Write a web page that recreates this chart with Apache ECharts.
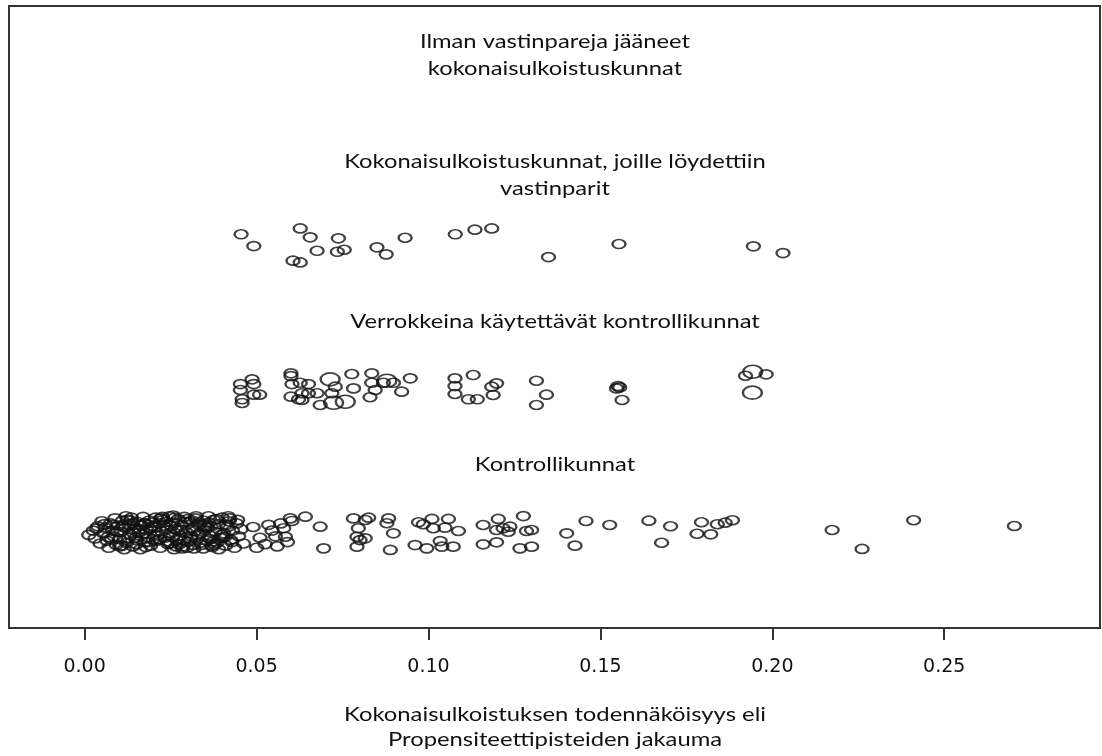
<!DOCTYPE html>
<html>
<head>
<meta charset="utf-8">
<script src="https://cdn.jsdelivr.net/npm/echarts@6/dist/echarts.min.js"></script>
<style>
  html, body { margin: 0; padding: 0; background: #fff; }
  #chart { width: 1102px; height: 756px; }
</style>
</head>
<body>
<div id="chart"></div>
<script>
// Group captions, top to bottom (level 4 .. level 1)
const groupLabels = [
  'Ilman vastinpareja jääneet\nkokonaisulkoistuskunnat',
  'Kokonaisulkoistuskunnat, joille löydettiin\nvastinparit',
  'Verrokkeina käytettävät kontrollikunnat',
  'Kontrollikunnat'
];
const xTickValues = [0, 0.05, 0.10, 0.15, 0.20, 0.25];
const xAxisTitle = 'Kokonaisulkoistuksen todennäköisyys eli\nPropensiteettipisteiden jakauma';

// Unmatched outsourcing municipalities (no observations)
const unmatchedX = [];
const unmatchedJitter = [];

// Outsourcing municipalities with a matched pair
const matchedX = [0.0455, 0.0492, 0.0627, 0.0656, 0.0606, 0.0627, 0.0676, 0.0738, 0.0735, 0.0755,
  0.0850, 0.0877, 0.0932, 0.1078, 0.1135, 0.1184, 0.1349, 0.1554, 0.1945, 0.2031];
const matchedJitter = [0.075, -0.007, 0.116, 0.054, -0.109, -0.121, -0.040, 0.047, -0.047, -0.033,
  -0.016, -0.065, 0.051, 0.075, 0.107, 0.116, -0.084, 0.007, -0.009, -0.056];

// Control municipalities used as comparison group (weight = times used)
const usedX = [0.0453, 0.0487, 0.0453, 0.0492, 0.0458, 0.0458, 0.0492, 0.0509,
  0.0600, 0.0600, 0.0603, 0.0627, 0.0651, 0.0600, 0.0622, 0.0632, 0.0651, 0.0676, 0.0632, 0.0685,
  0.0714, 0.0729, 0.0719, 0.0724, 0.0758, 0.0777, 0.0782,
  0.0835, 0.0835, 0.0845, 0.0830, 0.0869, 0.0879, 0.0898, 0.0922, 0.0947,
  0.1077, 0.1077, 0.1077, 0.1130, 0.1116, 0.1142, 0.1184, 0.1198, 0.1188,
  0.1314, 0.1343, 0.1314, 0.1551, 0.1556, 0.1547, 0.1563,
  0.1922, 0.1943, 0.1982, 0.1942];
const usedJitter = [0.031, 0.064, -0.010, 0.031, -0.075, -0.101, -0.043, -0.043,
  0.106, 0.087, 0.031, 0.040, 0.031, -0.057, -0.075, -0.033, -0.033, -0.033, -0.080, -0.115,
  0.064, 0.013, -0.033, -0.099, -0.092, 0.101, 0.001,
  0.106, 0.040, -0.010, -0.061, 0.040, 0.054, 0.040, -0.022, 0.071,
  0.071, 0.017, -0.038, 0.094, -0.075, -0.075, 0.013, 0.036, -0.045,
  0.054, -0.043, -0.115, 0.017, 0.008, 0.001, -0.080,
  0.089, 0.117, 0.099, -0.029];
const usedWeight = [1, 1, 1, 1, 1, 1, 1, 1,
  1, 1, 1, 1, 1, 1, 1, 1, 1, 1, 1, 1,
  2, 1, 1, 2, 2, 1, 1,
  1, 1, 1, 1, 1, 2, 1, 1, 1,
  1, 1, 1, 1, 1, 1, 1, 1, 1,
  1, 1, 1, 1, 1, 1, 1,
  1, 2, 1, 2];

// All control municipalities
const controlX = [
  0.0012, 0.0025, 0.0030, 0.0038, 0.0045, 0.0050, 0.0055, 0.0060, 0.0065, 0.0070,
  0.0075, 0.0080, 0.0085, 0.0088, 0.0092, 0.0098, 0.0102, 0.0105, 0.0110, 0.0115,
  0.0118, 0.0122, 0.0128, 0.0132, 0.0136, 0.0140, 0.0145, 0.0150, 0.0154, 0.0158,
  0.0162, 0.0166, 0.0170, 0.0175, 0.0180, 0.0184, 0.0188, 0.0192, 0.0197, 0.0202,
  0.0206, 0.0210, 0.0215, 0.0220, 0.0224, 0.0228, 0.0233, 0.0238, 0.0242, 0.0246,
  0.0250, 0.0255, 0.0260, 0.0264, 0.0268, 0.0272, 0.0277, 0.0282, 0.0286, 0.0290,
  0.0295, 0.0300, 0.0305, 0.0310, 0.0314, 0.0318, 0.0322, 0.0327, 0.0332, 0.0336,
  0.0340, 0.0345, 0.0350, 0.0355, 0.0360, 0.0364, 0.0368, 0.0372, 0.0376, 0.0380,
  0.0385, 0.0390, 0.0395, 0.0400, 0.0405, 0.0410, 0.0415, 0.0420, 0.0425, 0.0430,
  0.0436, 0.0442, 0.0448, 0.0455, 0.0462,
  0.0095, 0.0140, 0.0185, 0.0230, 0.0275, 0.0320, 0.0365, 0.0120, 0.0205, 0.0300,
  0.0345, 0.0255, 0.0168, 0.0390,
  0.0035, 0.0068, 0.0082, 0.0108, 0.0125, 0.0148, 0.0160, 0.0178, 0.0195, 0.0212,
  0.0226, 0.0240, 0.0252, 0.0266, 0.0280, 0.0292, 0.0308, 0.0324, 0.0338, 0.0352,
  0.0370, 0.0383, 0.0398, 0.0412, 0.0428, 0.0445, 0.0102, 0.0133, 0.0172, 0.0218,
  0.0262, 0.0298, 0.0334, 0.0378, 0.0418, 0.0058,
  0.0078, 0.0112, 0.0143, 0.0176, 0.0199, 0.0221, 0.0248, 0.0271, 0.0289, 0.0312,
  0.0330, 0.0358, 0.0374, 0.0402, 0.0422, 0.0151, 0.0236, 0.0284, 0.0348, 0.0408,
  0.0190, 0.0258, 0.0316, 0.0362, 0.0127,
  0.0490, 0.0510, 0.0525, 0.0545, 0.0560, 0.0570, 0.0590, 0.0535, 0.0500, 0.0555,
  0.0598, 0.0642, 0.0603, 0.0579, 0.0584, 0.0685, 0.0695,
  0.0782, 0.0816, 0.0826, 0.0796, 0.0792, 0.0801, 0.0792, 0.0816,
  0.0884, 0.0879, 0.0898, 0.0889,
  0.0971, 0.0985, 0.1010, 0.1014, 0.1058, 0.1048, 0.1087, 0.0961, 0.0995, 0.1034, 0.1039, 0.1072,
  0.1159, 0.1203, 0.1198, 0.1217, 0.1237, 0.1232, 0.1276, 0.1285, 0.1300, 0.1159, 0.1198, 0.1266, 0.1300,
  0.1402, 0.1426, 0.1458, 0.1527, 0.1641, 0.1704, 0.1678,
  0.1794, 0.1781, 0.1821, 0.1840, 0.1863, 0.1884,
  0.2174, 0.2261, 0.2411, 0.2704];
const controlJitter = [
  -0.020, 0.010, -0.045, 0.040, -0.080, 0.075, -0.010, 0.030, -0.060, -0.110,
  0.060, 0.010, -0.030, 0.095, -0.090, 0.045, -0.050, 0.000, 0.080, -0.120,
  0.030, -0.075, 0.055, -0.020, 0.100, -0.100, 0.020, -0.055, 0.070, -0.005,
  -0.120, 0.045, 0.105, -0.070, 0.015, -0.035, 0.080, -0.095, 0.040, -0.015,
  0.100, -0.060, 0.060, -0.110, 0.005, 0.085, -0.040, 0.030, -0.085, 0.110,
  -0.010, 0.065, -0.120, 0.020, -0.055, 0.090, -0.025, 0.045, -0.100, 0.105,
  0.000, -0.070, 0.070, -0.030, 0.025, -0.115, 0.095, -0.050, 0.050, -0.005,
  -0.090, 0.080, 0.015, -0.060, 0.110, -0.025, 0.040, -0.105, 0.085, 0.000,
  -0.075, 0.055, -0.040, 0.100, -0.010, -0.095, 0.035, 0.075, -0.055, 0.010,
  -0.110, 0.060, -0.030, 0.020, -0.080,
  0.000, 0.060, -0.070, 0.045, -0.085, 0.005, -0.050, 0.110, 0.030, 0.090,
  -0.115, -0.035, -0.015, -0.120,
  0.025, -0.035, 0.050, -0.095, 0.085, -0.040, 0.020, -0.105, 0.065, -0.025,
  0.105, -0.065, 0.040, -0.100, 0.015, 0.070, -0.045, 0.110, -0.075, 0.035,
  -0.095, 0.090, -0.020, 0.050, -0.070, 0.085, -0.100, 0.080, 0.060, -0.050,
  0.100, -0.110, 0.065, -0.085, 0.110, 0.055,
  -0.045, 0.040, -0.010, 0.060, -0.050, 0.095, -0.080, 0.010, -0.060, 0.080,
  -0.020, 0.030, -0.065, -0.040, 0.095, -0.085, 0.070, -0.115, 0.045, -0.035,
  0.025, 0.115, -0.090, 0.065, -0.040,
  0.035, -0.040, -0.085, 0.010, -0.100, 0.060, -0.070, 0.050, -0.110, -0.030,
  0.095, 0.107, 0.077, 0.026, -0.033, 0.037, -0.114,
  0.095, 0.084, 0.100, 0.026, -0.033, -0.056, -0.102, -0.044,
  0.095, 0.061, -0.009, -0.125,
  0.068, 0.054, 0.091, 0.026, 0.091, 0.030, 0.007, -0.091, -0.114, -0.063, -0.102, -0.102,
  0.049, 0.091, 0.014, 0.026, 0.037, 0.002, 0.111, 0.007, 0.014, -0.086, -0.072, -0.114, -0.102,
  -0.009, -0.095, 0.077, 0.049, 0.079, 0.040, -0.075,
  0.068, -0.012, -0.016, 0.054, 0.065, 0.082,
  0.014, -0.118, 0.082, 0.042];

// Vertical level of each group (level 4 = top row)
const LEVELS = { unmatched: 4, matched: 3, used: 2, control: 1 };

function points(xs, jitter, level) {
  return xs.map((x, i) => [x, level + jitter[i]]);
}

const ring = {
  color: 'rgba(0,0,0,0)',
  borderColor: '#111',
  borderWidth: 2
};
const baseSize = [13, 9];

function scatter(name, data, sizeFn) {
  return {
    name: name,
    type: 'scatter',
    symbol: 'circle',
    symbolSize: sizeFn || baseSize,
    data: data,
    itemStyle: ring,
    silent: true,
    animation: false
  };
}

const chart = echarts.init(document.getElementById('chart'), null, { renderer: 'canvas' });

const usedData = usedX.map((x, i) => [x, LEVELS.used + usedJitter[i], usedWeight[i]]);

const labelFont = '"Lato", "Noto Sans", sans-serif';
const captionY = [55, 175, 322, 465];

// Centered caption text, widened horizontally
function caption(text, y, size, lineHeight, stretch) {
  return {
    type: 'text',
    x: 555,
    y: y,
    scaleX: stretch,
    silent: true,
    style: {
      text: text,
      fill: '#111',
      font: size + 'px ' + labelFont,
      align: 'center',
      verticalAlign: 'middle',
      lineHeight: lineHeight
    }
  };
}

chart.setOption({
  backgroundColor: '#ffffff',
  grid: {
    left: 9, right: 2, top: 6, bottom: 128,
    show: true,
    borderColor: '#333',
    borderWidth: 2,
    backgroundColor: 'transparent'
  },
  xAxis: {
    type: 'value',
    min: -0.022,
    max: 0.2953,
    splitLine: { show: false },
    axisLine: { show: true, onZero: false, lineStyle: { color: '#333', width: 2 } },
    axisTick: {
      show: true,
      length: 12,
      customValues: xTickValues,
      lineStyle: { color: '#333', width: 2 }
    },
    axisLabel: {
      customValues: xTickValues,
      formatter: v => v.toFixed(2),
      margin: 30,
      color: '#111',
      fontFamily: '"DejaVu Sans", sans-serif',
      fontSize: 19
    }
  },
  yAxis: {
    type: 'value',
    min: 0.331,
    max: 4.666,
    show: false,
    splitLine: { show: false }
  },
  graphic: groupLabels.map((t, i) => caption(t, captionY[i], 19, 27, 1.25))
    .concat([caption(xAxisTitle, 727, 20, 25, 1.19)]),
  series: [
    scatter(groupLabels[0], points(unmatchedX, unmatchedJitter, LEVELS.unmatched)),
    scatter(groupLabels[1], points(matchedX, matchedJitter, LEVELS.matched)),
    scatter(groupLabels[2], usedData, d => d[2] > 1 ? [19, 13] : baseSize),
    scatter(groupLabels[3], points(controlX, controlJitter, LEVELS.control))
  ]
});
</script>
</body>
</html>
